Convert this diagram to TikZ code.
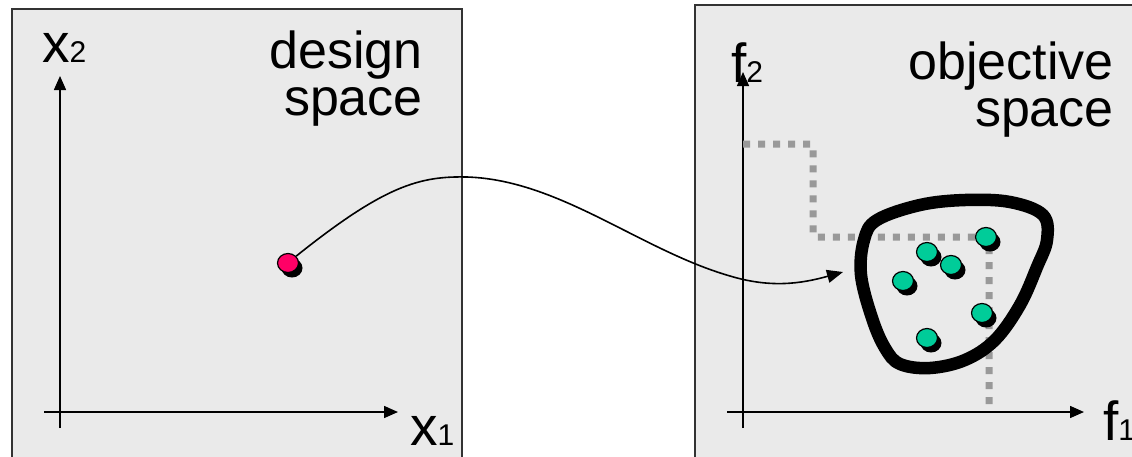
\documentclass[tikz,border=0pt]{standalone}
\usepackage{fontspec}
\setmainfont{Liberation Sans}
\usetikzlibrary{arrows.meta,shapes.geometric,shadows}

\definecolor{panelgray}{HTML}{EAEAEA}
\definecolor{pointred}{HTML}{FF0066}
\definecolor{pointgreen}{HTML}{00CC99}
\definecolor{dashgray}{HTML}{999999}
\newcommand\lowdigit[1]{{\fontsize{30}{30}\selectfont#1}}

\begin{document}
\begin{tikzpicture}[x=1pt, y=-1pt,
  panel/.style={draw=black!80, line width=1.3pt, fill=panelgray},
  axis/.style={-{Triangle[length=14pt,width=12pt]}, line width=1.5pt},
  axlabel/.style={inner sep=0pt, anchor=base west, font=\fontsize{55}{55}\selectfont},
  spacename/.style={inner sep=0pt, anchor=base east, align=right, font=\fontsize{52}{47}\selectfont},
  dot/.style={ellipse, draw, line width=1.2pt, minimum width=21pt, minimum height=19pt, inner sep=0pt,
    general shadow={fill=black, shadow xshift=4pt, shadow yshift=-5pt}},
  blob/.style={line width=12.5pt},
  dom/.style={dashgray, line width=7pt, dash pattern=on 7pt off 8pt, rounded corners=3pt},
  link/.style={-{Triangle[length=16pt,width=13pt]}, line width=1.6pt}
]
\clip (0,0) rectangle (1132,456);

% the two spaces
\draw[panel] (12,9) rectangle (462,480);
\draw[panel] (695,5) rectangle (1150,480);

% design space axes
\draw[axis] (60,428) -- (60,76);
\draw[axis] (44,412) -- (398,412);
\node[axlabel] (x2) at (42,62) {x\lowdigit{2}};
\node[axlabel] (x1) at (410,445) {x\lowdigit{1}};
\node[spacename] (dspace) at (423,115) {design\\space};

% objective space axes
\draw[axis] (743,428) -- (743,72);
\draw[axis] (727,412) -- (1084,412);
\node[spacename] (ospace) at (1114,126) {objective\\space};

% dominated region and feasible set
\draw[dom] (743,144) -| (813,237) -| (989,412);
\draw[blob] plot[smooth cycle, tension=0.6] coordinates {
  (877,220) (920,205) (965,200) (1010,202) (1043,215) (1047,240)
  (1037,267) (1020,305) (995,340) (965,360) (930,368) (900,364)
  (885,348) (872,318) (861,275) (864,240)};

\node[dot, fill=pointgreen] (g1) at (986,237) {};
\node[dot, fill=pointgreen] (g2) at (927,252) {};
\node[dot, fill=pointgreen] (g3) at (951,265) {};
\node[dot, fill=pointgreen] (g4) at (903,281) {};
\node[dot, fill=pointgreen] (g5) at (982,313) {};
\node[dot, fill=pointgreen] (g6) at (927,338) {};

\node[axlabel] (f2) at (731,82) {f\lowdigit{2}};
\node[axlabel] (f1) at (1103,440) {f\lowdigit{1}};

% mapping
\node[dot, fill=pointred] (x) at (288,263) {};
\coordinate (top) at (467,177);
\coordinate (hit) at (843,272);
\draw[link] (x.40) .. controls (385,185) and (420,176) .. (top)
  .. controls (560,180) and (640,250) .. (730,276)
  .. controls (770,288) and (800,284) .. (hit);
\end{tikzpicture}
\end{document}
